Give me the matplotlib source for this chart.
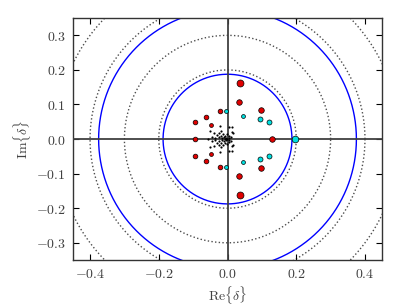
import numpy as np
import matplotlib
matplotlib.use("Agg")
import matplotlib.pyplot as plt
from matplotlib.ticker import FuncFormatter

plt.rcParams['mathtext.fontset'] = 'cm'
plt.rcParams['font.family'] = 'DejaVu Serif'

# ---- data (upper half-plane; lower half is the complex conjugate) ----
red_big = [(0.036, 0.163)]
red_mid = [(0.034, 0.106), (0.097, 0.084), (0.129, 0.0)]
red_small = [(-0.095, 0.050), (-0.062, 0.064), (-0.021, 0.080), (-0.095, 0.0)]
red_tiny = [(-0.049, 0.042)]
cyan_big = [(0.196, 0.0)]
cyan_mid = [(0.121, 0.050), (0.094, 0.057)]
cyan_small = [(0.044, 0.067), (-0.003, 0.082)]
black_pts = [(-0.058, 0.0), (-0.052, 0.024), (-0.021, 0.038), (-0.039, 0.019),
             (-0.032, 0.012), (-0.026, 0.017), (-0.018, 0.010), (-0.013, 0.016),
             (-0.010, 0.006), (-0.006, 0.010), (-0.004, 0.003), (-0.045, 0.006),
             (-0.035, 0.003), (-0.025, 0.005), (-0.015, 0.002), (0.012, 0.035),
             (0.005, 0.034), (0.012, 0.020), (0.016, 0.017), (0.005, 0.008),
             (0.003, 0.002), (-0.001, 0.0), (-0.008, 0.0), (0.010, 0.005),
             (-0.002, 0.014), (-0.020, 0.024)]
dotted_radii = [0.2, 0.3, 0.4, 0.5]
blue_radii = [0.1875, 0.375]
xticks = [-0.4, -0.2, 0.0, 0.2, 0.4]
yticks = [-0.3, -0.2, -0.1, 0.0, 0.1, 0.2, 0.3]


def conj(pts):
    pts = np.array(pts, dtype=float)
    lower = pts[pts[:, 1] != 0] * np.array([1, -1])
    return np.vstack([pts, lower])


fig = plt.figure(figsize=(4.07, 3.06), dpi=100)
ax = fig.add_axes([0.179, 0.150, 0.760, 0.791])

t = np.linspace(0, 2 * np.pi, 721)
for r in dotted_radii:
    ax.plot(r * np.cos(t), r * np.sin(t), ls=':', color='0.3', lw=1.0, zorder=1)
for r in blue_radii:
    ax.plot(r * np.cos(t), r * np.sin(t), ls='-', color='b', lw=1.0, zorder=2)

ax.axhline(0, color='0.25', lw=1.3, zorder=3)
ax.axvline(0, color='0.25', lw=1.3, zorder=3)

red = (0.88, 0.0, 0.0)
cyan = (0.0, 0.88, 0.88)
groups = [
    (black_pts, 'k', 1.3, 0.2),
    (red_tiny, red, 2.8, 0.5),
    (red_small, red, 3.4, 0.5),
    (red_mid, red, 4.0, 0.5),
    (red_big, red, 5.0, 0.5),
    (cyan_small, cyan, 2.8, 0.5),
    (cyan_mid, cyan, 3.6, 0.5),
    (cyan_big, cyan, 4.8, 0.5),
]
for pts, col, ms, mew in groups:
    p = conj(pts)
    ax.plot(p[:, 0], p[:, 1], 'o', color=col, mec='k', mew=mew, ms=ms,
            ls='none', zorder=5)

ax.set_xlim(-0.45, 0.45)
ax.set_ylim(-0.35, 0.35)
ax.set_xticks(xticks)
ax.set_yticks(yticks)
fmt = FuncFormatter(lambda v, p: r'$%.1f$' % (0.0 if abs(v) < 1e-9 else v))
ax.xaxis.set_major_formatter(fmt)
ax.yaxis.set_major_formatter(fmt)
ax.tick_params(direction='in', length=4, width=0.8, top=True, right=True,
               labelsize=10, colors='k', labelcolor='0.25', pad=5)
for s in ax.spines.values():
    s.set_linewidth(1.0)
    s.set_color('0.2')

ax.set_xlabel(r'$\mathrm{Re}\{\delta\}$', fontsize=10, color='0.25', labelpad=2)
ax.set_ylabel(r'$\mathrm{Im}\{\delta\}$', fontsize=10, color='0.25', labelpad=2)

fig.savefig('out.png', dpi=100)
